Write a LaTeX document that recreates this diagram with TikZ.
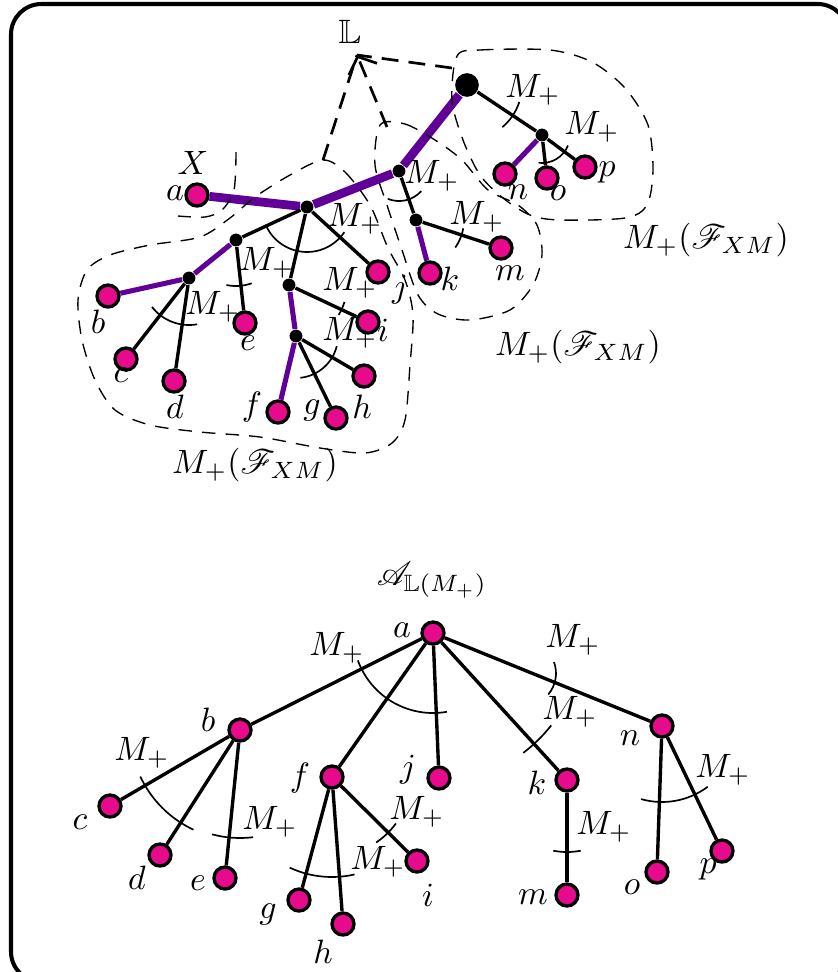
\documentclass[tikz,border=0pt]{standalone}
\usepackage{amsmath}
\usepackage{amssymb}
\usepackage{mathrsfs}
\usepackage{tikz}
\usetikzlibrary{arrows.meta,calc}

\definecolor{leafpink}{RGB}{232,10,140}
\definecolor{pathviolet}{RGB}{96,0,150}

\begin{document}
\begin{tikzpicture}[
    x=0.0104cm, y=0.0104cm,
    leaf/.style={circle, draw, fill=leafpink, line width=1pt, minimum size=6.5pt, inner sep=0pt},
    inner/.style={circle, fill=black, minimum size=3.8pt, inner sep=0pt},
    root/.style={circle, fill=black, minimum size=7pt, inner sep=0pt},
    edge/.style={line width=1pt},
    midpath/.style={line width=1.5pt, pathviolet},
    thickpath/.style={line width=2.6pt, pathviolet},
    anglemark/.style={line width=0.5pt},
    region/.style={line width=0.4pt, dash pattern=on 4pt off 3pt},
    linkline/.style={line width=0.8pt, dash pattern=on 5pt off 3pt},
    lbl/.style={inner sep=0pt}
]
\useasboundingbox (0,0) rectangle (838,-972);
\draw[line width=1.2pt, rounded corners=9pt] (11,-4) rectangle (848,-982);

% upper tree
\node[leaf] (ta) at (197,-195) {};
\node[inner] (tA) at (307,-207) {};
\node[inner] (tC) at (236,-240) {};
\node[inner] (tE) at (189,-278) {};
\node[inner] (tD) at (289,-285) {};
\node[inner] (tF) at (296,-336) {};
\node[inner] (tB) at (399,-171) {};
\node[inner] (tG) at (416,-220) {};
\node[root] (tR) at (467,-85) {};
\node[inner] (tH) at (542,-135) {};
\node[leaf] (tb) at (108,-296) {};
\node[leaf] (tc) at (126,-359) {};
\node[leaf] (td) at (174,-381) {};
\node[leaf] (te) at (245,-323) {};
\node[leaf] (tf) at (278,-412) {};
\node[leaf] (tg) at (336,-418) {};
\node[leaf] (th) at (364,-376) {};
\node[leaf] (ti) at (368,-322) {};
\node[leaf] (tj) at (378,-272) {};
\node[leaf] (tk) at (430,-273) {};
\node[leaf] (tm) at (501,-248) {};
\node[leaf] (tn) at (505,-174) {};
\node[leaf] (to) at (547,-178) {};
\node[leaf] (tp) at (585,-167) {};

\foreach \i/\j in {ta/tA, tA/tB, tB/tR}
  \draw[thickpath] (\i) -- (\j);
\foreach \i/\j in {tC/tE, tE/tb, tD/tF, tF/tf, tG/tk, tH/tn}
  \draw[midpath] (\i) -- (\j);
\foreach \i/\j in {tA/tC, tA/tD, tA/tj, tC/te, tE/tc, tE/td, tD/ti, tF/tg, tF/th, tB/tG, tG/tm, tR/tH, tH/to, tH/tp}
  \draw[edge] (\i) -- (\j);

\foreach \n/\s/\e/\r in {tR/-50/-18/55, tH/-97/-22/28, tB/-112/-42/30, tG/-35/-10/48, tA/-157/-34/45, tC/-102/-70/46, tE/-142/-80/47, tD/-31/-17/58, tF/-84/-14/42}
  \draw[anglemark] ($(\n)+(\s:\r)$) arc[start angle=\s, end angle=\e, radius=\r];

\foreach \x/\y [count=\k] in {533/90, 592/127, 432/176, 477/217, 355/219, 267/263, 213/307, 350/283, 350/333}
  \node[lbl] (tmp\k) at (\x,-\y) {$M_+$};

\foreach \n/\x/\y in {a/175/193, b/98/322, c/121/375, d/175/407, e/248/343, f/252/407, g/312/410, h/362/407, i/383/330, j/400/290, k/450/279, m/510/273, n/518/192, o/558/193, p/607/172}
  \node[lbl] (tl\n) at (\x,-\y) {$\n$};
\node[lbl] (tX) at (193,-163) {$X$};

% regions
\draw[region] plot[smooth cycle] coordinates {(323,-160) (345,-172) (370,-205) (388,-248) (405,-280) (413,-315) (410,-365) (405,-420) (392,-443) (365,-453) (320,-448) (260,-437) (200,-432) (150,-425) (115,-410) (95,-380) (82,-340) (78,-300) (87,-270) (110,-255) (150,-245) (200,-237) (230,-218) (255,-197) (290,-175)};
\draw[region] plot[smooth cycle] coordinates {(380,-125) (405,-124) (435,-140) (462,-160) (488,-190) (518,-205) (537,-225) (542,-255) (533,-285) (510,-310) (470,-320) (438,-314) (418,-295) (402,-250) (387,-205) (375,-165)};
\draw[region] plot[smooth cycle] coordinates {(457,-56) (480,-50) (550,-50) (592,-62) (625,-88) (648,-125) (653,-170) (647,-205) (625,-218) (560,-220) (530,-215) (503,-198) (480,-175) (463,-140) (452,-100)};
\draw[region] plot[smooth] coordinates {(236,-152) (234,-190) (222,-210) (205,-217) (178,-216)};

\node (rleft) at (255,-465) {$M_+(\mathscr{F}_{XM})$};
\node (rmid) at (578,-347) {$M_+(\mathscr{F}_{XM})$};
\node (rright) at (706,-240) {$M_+(\mathscr{F}_{XM})$};

\node[lbl] (L) at (350,-32) {$\mathbb{L}$};
\coordinate (apex) at (357,-55);
\coordinate (lefttop) at (323,-160);
\coordinate (midtop) at (387,-127);
\coordinate (righttop) at (452,-68);
\draw[linkline] (lefttop) -- (apex);
\draw[linkline] (righttop) -- (apex);
\draw[linkline, -{Straight Barb[length=4pt,width=9pt]}] (midtop) -- (apex);

% lower tree
\node (title) at (432,-580) {$\mathscr{A}_{\mathbb{L}(M_+)}$};
\node[leaf] (ba) at (433,-633) {};
\node[leaf] (bb) at (240,-730) {};
\node[leaf] (bc) at (110,-806) {};
\node[leaf] (bd) at (160,-855) {};
\node[leaf] (be) at (225,-878) {};
\node[leaf] (bf) at (332,-777) {};
\node[leaf] (bg) at (299,-900) {};
\node[leaf] (bh) at (343,-924) {};
\node[leaf] (bi) at (417,-861) {};
\node[leaf] (bj) at (439,-778) {};
\node[leaf] (bk) at (567,-780) {};
\node[leaf] (bm) at (567,-895) {};
\node[leaf] (bn) at (662,-726) {};
\node[leaf] (bo) at (657,-872) {};
\node[leaf] (bp) at (722,-851) {};

\foreach \i/\j in {ba/bb, ba/bf, ba/bj, ba/bk, ba/bn, bb/bc, bb/bd, bb/be, bf/bg, bf/bh, bf/bi, bk/bm, bn/bo, bn/bp}
  \draw[edge] (\i) -- (\j);

\foreach \n/\s/\e/\r in {ba/-160/-80/80, ba/-38/-53/150, bb/-155/-115/110, bb/-105/-83/108, bf/-115/-77/100, bf/-36/-56/79, bk/-101/-79/72, bn/-106/-53/76}
  \draw[anglemark] ($(\n)+(\s:\r)$) arc[start angle=\s, end angle=\e, radius=\r];
\draw[anglemark] (554,-662) arc[start angle=20, end angle=-40, radius=33];

\foreach \x/\y [count=\k] in {337/648, 570/712, 573/640, 142/753, 270/822, 417/812, 378/862, 604/827, 723/770}
  \node[lbl] (bmp\k) at (\x,-\y) {$M_+$};

\foreach \n/\x/\y in {a/402/630, b/208/720, c/80/822, d/137/878, e/198/883, f/300/778, g/268/915, h/323/952, i/428/895, j/408/770, k/537/783, m/533/897, n/630/738, o/632/887, p/708/870}
  \node[lbl] (bl\n) at (\x,-\y) {$\n$};
\end{tikzpicture}
\end{document}
